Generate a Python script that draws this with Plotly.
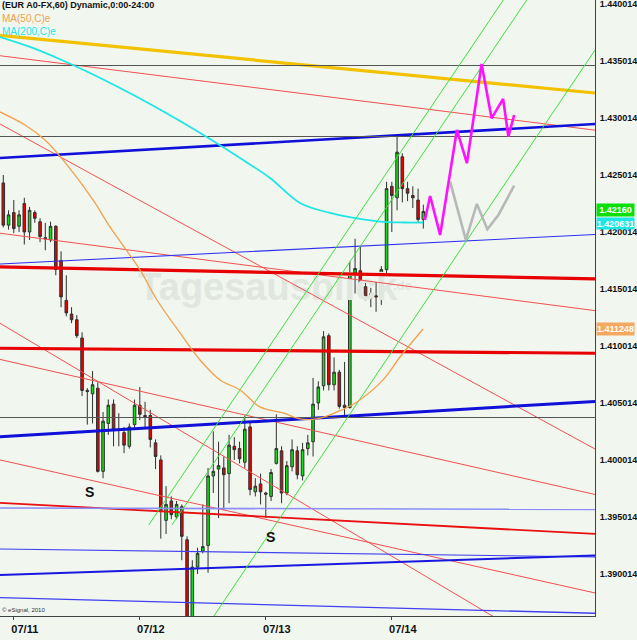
import plotly.graph_objects as go

# ---------------- data ----------------
bar_index = list(range(81))
open_ = [1.4241,1.4204,1.4215,1.4203,1.4223,1.4198,1.4215,1.4207,1.4193,1.4191,
         1.4203,1.4173,1.4138,1.4126,1.4121,1.4105,1.4059,1.4056,1.4061,1.3988,
         1.4030,1.4047,1.4025,1.4022,1.4010,1.4029,1.4046,1.4037,1.4037,1.4013,
         1.3998,1.3945,1.3962,1.3948,1.3957,1.3928,1.3851,1.3904,1.3918,1.3923,
         1.3984,1.3990,1.3991,1.3986,1.4010,1.4008,1.3996,1.4027,1.3970,1.3977,
         1.3969,1.3966,1.3995,1.4006,1.3969,1.3992,1.4006,1.3984,1.4008,1.4014,
         1.4048,1.4063,1.4107,1.4064,1.4075,1.4046,1.4044,1.4162,1.4164,1.4150,
         1.4140,1.4142,1.4141,1.4165,1.4238,1.4228,1.4264,1.4236,1.4230,1.4226,
         1.4209]
high = [1.4248,1.4217,1.4226,1.4217,1.4228,1.4220,1.4217,1.4210,1.4206,1.4207,
        1.4204,1.4181,1.4160,1.4132,1.4125,1.4110,1.4061,1.4076,1.4066,1.4040,
        1.4051,1.4051,1.4039,1.4027,1.4030,1.4051,1.4062,1.4049,1.4042,1.4016,
        1.4002,1.3975,1.3966,1.3962,1.3959,1.3931,1.3910,1.3921,1.3959,1.3991,
        1.4023,1.4014,1.4001,1.4020,1.4018,1.4014,1.4037,1.4032,1.3982,1.3986,
        1.3970,1.3990,1.4038,1.4010,1.3997,1.4016,1.4010,1.4013,1.4020,1.4070,
        1.4067,1.4111,1.4109,1.4088,1.4077,1.4084,1.4172,1.4192,1.4186,1.4156,
        1.4149,1.4154,1.4168,1.4242,1.4242,1.4283,1.4267,1.4242,1.4238,1.4236,
        1.4222]
low = [1.4202,1.4200,1.4197,1.4198,1.4187,1.4191,1.4206,1.4189,1.4182,1.4189,
       1.4160,1.4132,1.4124,1.4118,1.4105,1.4054,1.4029,1.4030,1.3987,1.3982,
       1.4020,1.4010,1.4010,1.4004,1.4008,1.4026,1.4033,1.4026,1.4009,1.3990,
       1.3929,1.3933,1.3946,1.3946,1.3910,1.3840,1.3836,1.3898,1.3916,1.3899,
       1.3969,1.3947,1.3954,1.3960,1.3998,1.3995,1.3991,1.3967,1.3966,1.3959,
       1.3947,1.3962,1.3994,1.3960,1.3967,1.3988,1.3981,1.3980,1.4002,1.4001,
       1.4042,1.4059,1.4059,1.4059,1.4043,1.4037,1.4043,1.4144,1.4147,1.4138,
       1.4132,1.4128,1.4134,1.4160,1.4198,1.4217,1.4224,1.4225,1.4219,1.4206,
       1.4201]
close = [1.4204,1.4213,1.4201,1.4213,1.4198,1.4217,1.4210,1.4194,1.4192,1.4203,
         1.4165,1.4141,1.4127,1.4121,1.4107,1.4059,1.4058,1.4064,1.3988,1.4032,
         1.4046,1.4024,1.4024,1.4011,1.4027,1.4046,1.4038,1.4036,1.4016,1.4001,
         1.3953,1.3959,1.3950,1.3959,1.3931,1.3853,1.3904,1.3916,1.3922,1.3984,
         1.3988,1.3993,1.3985,1.4011,1.4007,1.3999,1.4025,1.3972,1.3975,1.3970,
         1.3968,1.3987,1.4008,1.3969,1.3993,1.4007,1.3985,1.4007,1.4013,1.4047,
         1.4062,1.4106,1.4064,1.4075,1.4045,1.4044,1.4162,1.4166,1.4149,1.4141,
         1.4144,1.4141,1.4165,1.4236,1.4230,1.4268,1.4236,1.4232,1.4228,1.4209,
         1.4216]

# moving averages (bar index, price)
ma200_x = [-0.63, 5.09, 11.12, 16.51, 22.23, 27.94, 33.66, 39.37, 45.09, 50.8,
           56.51, 62.23, 67.94, 72.32, 76.51, 79.94]
ma200_y = [1.43690, 1.43603, 1.43489, 1.43375, 1.43243, 1.43103, 1.42954, 1.42796,
           1.42629, 1.42454, 1.42234, 1.42147, 1.42094, 1.42068, 1.42063, 1.42063]
ma50_x = [-0.63, 4.13, 7.94, 11.37, 17.09, 20.32, 26.04, 29.28, 33.66, 37.47, 41.28,
          45.09, 48.9, 53.28, 56.51, 59.75, 63.56, 67.37, 72.32, 75.56, 79.94]
ma50_y = [1.43033, 1.42918, 1.42787, 1.42612, 1.42261, 1.42024, 1.41647, 1.41383,
          1.41094, 1.40857, 1.40682, 1.40594, 1.40445, 1.40392, 1.40340, 1.40340,
          1.40401, 1.40489, 1.40682, 1.40883, 1.41129]

# drawn trend lines: name -> start (bar, price), end (bar, price)
line_names = ["yellow", "r1", "r2", "B1", "r3", "b1", "R1", "r4", "R2", "r5", "B2",
              "r6", "R3", "b2", "b3", "B3", "b4", "K1", "K2", "K3", "gA", "gC", "gB"]
line_x0 = [-0.63, -0.63, -0.63, -0.63, -0.63, -0.63, -0.63, -0.63, -0.63, -0.63, -0.63,
           -0.63, -0.63, -0.63, -0.63, -0.63, -0.63, -0.63, -0.63, -0.63, 27.71, 32.13, 40.11]
line_p0 = [1.43704, 1.43526, 1.42927, 1.42629, 1.41969, 1.41699, 1.41673, 1.41179, 1.40960,
           1.40862, 1.40184, 1.39980, 1.39603, 1.39559, 1.39199, 1.38971, 1.38772,
           1.43441, 1.42818, 1.40353, 1.39410, 1.39410, 1.38611]
line_x1 = [112.7] * 20 + [95.24, 99.70, 112.7]
line_p1 = [1.43199, 1.42873, 1.40076, 1.42927, 1.41290, 1.41958, 1.41568, 1.38076, 1.40916,
           1.39677, 1.40493, 1.38813, 1.39331, 1.39546, 1.39129, 1.39142, 1.38635,
           1.43441, 1.42818, 1.40353, 1.44015, 1.44015, 1.43576]

# projections
proj_main_x = [80.3, 81.3, 83.2, 86.4, 88.3, 91.1, 93.0, 95.2, 96.2, 97.3]
proj_main_y = [1.42085, 1.42296, 1.41954, 1.42875, 1.42583, 1.43454, 1.42977, 1.43147,
               1.42816, 1.43006]
proj_alt_x = [85.1, 88.1, 90.2, 92.2, 94.3, 97.3]
proj_alt_y = [1.42421, 1.41910, 1.42226, 1.42004, 1.42129, 1.42386]

x_tick_vals = [2, 26, 50, 74]
x_tick_text = ["07/11", "07/12", "07/13", "07/14"]
y_tick_vals = [1.390014, 1.395014, 1.400014, 1.405014, 1.410014, 1.415014, 1.420014,
               1.425014, 1.430014, 1.435014, 1.440014]

last_close_label = "1.42160"
ma200_label = "1.420631"
ma50_label = "1.411248"
ma200_last = 1.420631
ma50_last = 1.411248
# ---------------------------------------

styles = {
    "yellow": ("#F2C200", 3.2), "r1": ("#F25050", 1), "r2": ("#F25050", 1),
    "B1": ("#1010D8", 2.6), "r3": ("#F25050", 1), "b1": ("#3030F0", 1.1),
    "R1": ("#E80000", 3.2), "r4": ("#F25050", 1), "R2": ("#E80000", 3.2),
    "r5": ("#F25050", 1), "B2": ("#1010D8", 3), "r6": ("#F25050", 1),
    "R3": ("#E81010", 1.8), "b2": ("#8C8CF8", 1.6), "b3": ("#4040F0", 1.1),
    "B3": ("#1818E0", 2), "b4": ("#4040F0", 1.3), "K1": ("#555555", 1.1),
    "K2": ("#555555", 1.1), "K3": ("#555555", 1.1), "gA": ("#3CE03C", 1),
    "gC": ("#3CE03C", 1), "gB": ("#3CE03C", 1),
}

fig = go.Figure()

# watermark
fig.add_trace(go.Scatter(x=[50.4], y=[1.4147], mode="text", text=["Tagesausblick"],
                         textfont=dict(family="Liberation Sans", size=38, color="#E1E6DF",
                                       weight="bold"),
                         hoverinfo="skip"))
fig.add_trace(go.Scatter(x=[76.0], y=[1.4150], mode="text", text=[".de"],
                         textfont=dict(family="Liberation Sans", size=13, color="#E1E6DF",
                                       weight="bold"),
                         hoverinfo="skip"))

for n, x0, p0, x1, p1 in zip(line_names, line_x0, line_p0, line_x1, line_p1):
    c, w = styles[n]
    fig.add_trace(go.Scatter(x=[x0, x1], y=[p0, p1], mode="lines",
                             line=dict(color=c, width=w), hoverinfo="skip"))

fig.add_trace(go.Scatter(x=ma50_x, y=ma50_y, mode="lines", line=dict(color="#F4A04A", width=1.3,
                                                                   shape="spline")))
fig.add_trace(go.Scatter(x=ma200_x, y=ma200_y, mode="lines", line=dict(color="#1EE6E6", width=1.8,
                                                                     shape="spline")))

fig.add_trace(go.Candlestick(
    x=bar_index, open=open_, high=high, low=low, close=close,
    increasing=dict(fillcolor="#10E010", line=dict(color="#303030", width=1)),
    decreasing=dict(fillcolor="#E80000", line=dict(color="#303030", width=1)),
    whiskerwidth=0,
))

fig.add_trace(go.Scatter(x=proj_alt_x, y=proj_alt_y, mode="lines",
                         line=dict(color="#B8B8B8", width=2.6)))
fig.add_trace(go.Scatter(x=proj_main_x, y=proj_main_y, mode="lines",
                         line=dict(color="#FF10FF", width=2.6)))

bg = "#F1F6EF"
fig.update_layout(
    width=637, height=640,
    margin=dict(l=0, r=42, t=0, b=24, autoexpand=False),
    plot_bgcolor=bg, paper_bgcolor=bg,
    showlegend=False,
    xaxis=dict(range=[-0.63, 112.7], rangeslider=dict(visible=False), showgrid=False,
               zeroline=False, tickvals=x_tick_vals, ticktext=x_tick_text,
               ticks="outside", ticklen=3, tickcolor="#444", automargin=False,
               showline=True, linecolor="#444", linewidth=1,
               tickfont=dict(family="Liberation Sans", size=11, color="#111", weight="bold"),
               ticklabelshift=11),
    yaxis=dict(range=[1.38611, 1.44015], side="right", showgrid=False, zeroline=False,
               tickvals=y_tick_vals, ticktext=["%.6f" % v for v in y_tick_vals],
               ticks="", showline=True, linecolor="#444", linewidth=1, automargin=False,
               tickfont=dict(family="Liberation Sans", size=9, color="#111", weight="bold"),
               ticklabelshift=2, ticklabelstandoff=2, ticklabeloverflow="allow"),
)

lab_font = dict(family="Liberation Sans", size=9, color="white", weight="bold")
anns = [
    dict(text="(EUR A0-FX,60) Dynamic,0:00-24:00", x=0, y=1, xref="paper", yref="paper",
         xanchor="left", yanchor="top", showarrow=False, yshift=2,
         font=dict(family="Liberation Sans", size=9, color="#111", weight="bold")),
    dict(text="MA(50,C)e", x=0, y=1, xref="paper", yref="paper", xanchor="left",
         yanchor="top", showarrow=False, yshift=-11,
         font=dict(family="Liberation Sans", size=10, color="#F4A04A")),
    dict(text="MA(200,C)e", x=0, y=1, xref="paper", yref="paper", xanchor="left",
         yanchor="top", showarrow=False, yshift=-24,
         font=dict(family="Liberation Sans", size=10, color="#1EE6E6")),
    dict(text="S", x=16.5, y=1.3970, xref="x", yref="y", showarrow=False,
         font=dict(family="Liberation Sans", size=14, color="#111", weight="bold")),
    dict(text="S", x=50.8, y=1.3930, xref="x", yref="y", showarrow=False,
         font=dict(family="Liberation Sans", size=14, color="#111", weight="bold")),
    dict(text="© eSignal, 2010", x=0, y=0, xref="paper", yref="paper", xanchor="left",
         yanchor="bottom", showarrow=False, yshift=1,
         font=dict(family="Liberation Sans", size=6, color="#333")),
    dict(text=last_close_label, x=1, y=close[-1], xref="paper", yref="y", xanchor="left",
         showarrow=False, xshift=1, yshift=1, bgcolor="#0ADF0A", borderpad=0, width=37,
         height=12, font=lab_font),
    dict(text=ma200_label, x=1, y=ma200_last, xref="paper", yref="y", xanchor="left",
         showarrow=False, xshift=1, yshift=-1, bgcolor="#1EE6E6", borderpad=0, width=37,
         height=11, font=lab_font),
    dict(text=ma50_label, x=1, y=ma50_last, xref="paper", yref="y", xanchor="left",
         showarrow=False, xshift=1, bgcolor="#F4A860", borderpad=0, width=37, height=12,
         font=lab_font),
]
fig.update_layout(annotations=anns)

fig.write_html("out.html", post_script="document.body.style.margin='0px';",
               config={"displayModeBar": False})
